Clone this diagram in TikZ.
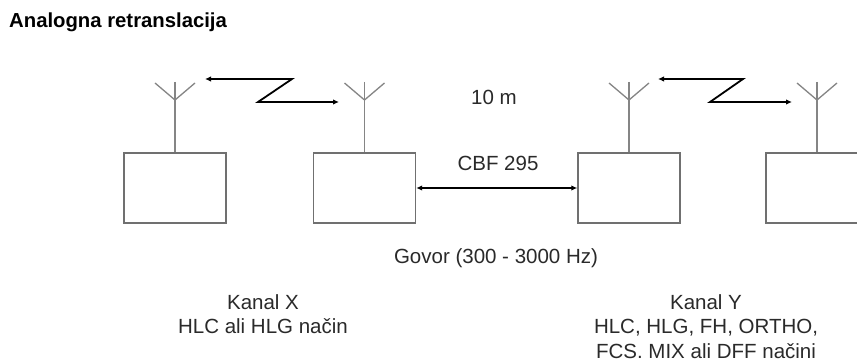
\documentclass[tikz,border=0pt]{standalone}
\usepackage{fontspec}
\setmainfont{Liberation Sans}
\usetikzlibrary{arrows.meta}
\definecolor{boxgray}{HTML}{707070}
\definecolor{antgray}{HTML}{858585}
\definecolor{txt}{HTML}{2A2A2A}
\begin{document}
\begin{tikzpicture}[x=1pt,y=-1pt,
  radio/.style={draw=boxgray, line width=1.4pt, minimum width=102pt, minimum height=70pt, inner sep=0pt, fill=white},
  ant/.style={draw=antgray, line width=1.3pt},
  tip/.style={arrows={Latex[length=6pt,width=5.5pt]-Latex[length=6pt,width=5.5pt]}},
  link/.style={draw=black, line width=1.8pt, line join=miter, tip},
  lbl/.style={text=txt, font=\fontsize{20.5pt}{24.5pt}\selectfont, inner sep=0pt, align=center},
  ttl/.style={text=black, font=\fontsize{20.3pt}{24pt}\selectfont\bfseries, inner sep=0pt, anchor=west}
]
\clip (0,0) rectangle (857,363);
\fill[white] (0,0) rectangle (857,363);

\node[ttl] (title) at (9,22) {Analogna retranslacija};

% radios
\node[radio] (b1) at (175,188) {};
\node[radio] (b2) at (364.5,188) {};
\node[radio] (b3) at (629,188) {};
\node[radio] (b4) at (817,188) {};

% antennas
\foreach \n/\x in {1/175,2/364.5,3/629,4/817}{
  \coordinate (t\n) at (\x,82);
  \coordinate (j\n) at (\x,100);
  \coordinate (l\n) at (\x-20,83);
  \coordinate (r\n) at (\x+20,83);
  \draw[ant] (t\n) -- (b\n.north);
  \draw[ant] (l\n) -- (j\n) -- (r\n);
}

% radio links
\coordinate (z1a) at (205,79);
\coordinate (z1b) at (292,79);
\coordinate (z1c) at (258,102);
\coordinate (z1d) at (339,102);
\draw[link] (z1a) -- (z1b) -- (z1c) -- (z1d);

\coordinate (z2a) at (658,79);
\coordinate (z2b) at (743,79);
\coordinate (z2c) at (710,102);
\coordinate (z2d) at (792,102);
\draw[link] (z2a) -- (z2b) -- (z2c) -- (z2d);

% wired link
\draw[link] (b2.east) -- (b3.west);

% labels
\node[lbl] (dist) at (494,97) {10 m};
\node[lbl] (cbf) at (498,163) {CBF 295};
\node[lbl] (govor) at (496,258) {Govor (300 - 3000 Hz)};
\node[lbl, anchor=north] (kx) at (263,294) {Kanal X\\HLC ali HLG način};
\node[lbl, anchor=north] (ky) at (706,294) {Kanal Y\\HLC, HLG, FH, ORTHO,\\FCS. MIX ali DFF načini};
\end{tikzpicture}
\end{document}
